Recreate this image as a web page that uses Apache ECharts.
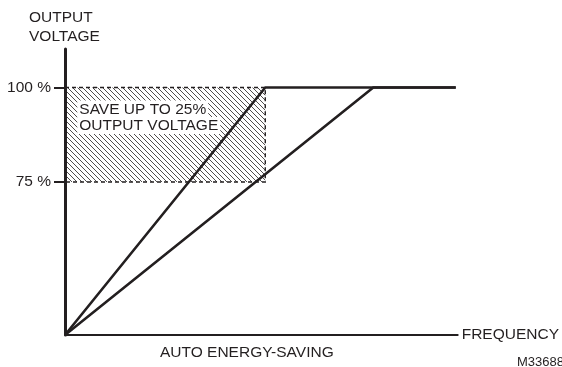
<!DOCTYPE html>
<html>
<head>
<meta charset="utf-8">
<style>
  html, body { margin: 0; padding: 0; background: #fff; }
  #chart { width: 562px; height: 367px; }
</style>
<script src="https://cdn.jsdelivr.net/npm/echarts@6/dist/echarts.min.js"></script>
</head>
<body>
<div id="chart"></div>
<script>
// Output voltage (%) against frequency (0-100 % of the frequency span).
// The voltage scale is shown from its lower visible level upwards.
const voltMin = 34.5;
const voltMax = 110.2;
const freqMax = 100;

// V/f curves: full-voltage curve and energy-saving curve
const fullCurve = [[0, voltMin], [51, 100], [99.5, 100]];
const savingCurve = [[0, voltMin], [78.5, 100], [99.5, 100]];

// Savings band: frequency span and voltage range
const bandFreq = [0, 51];
const bandVolt = [75, 100];

// Voltage tick labels
const voltTicks = [75, 100];

const ink = '#231f20';
const font = '"Liberation Sans", Arial, Helvetica, sans-serif';
const fs = 15.5;

// Diagonal hatch tile for the savings band
function hatchPattern(size) {
  const c = document.createElement('canvas');
  c.width = size; c.height = size;
  const ctx = c.getContext('2d');
  ctx.strokeStyle = ink;
  ctx.lineWidth = 0.8;
  for (let k = -size; k <= size; k += size) {
    ctx.beginPath();
    ctx.moveTo(0, k);
    ctx.lineTo(size, size + k);
    ctx.stroke();
  }
  return c;
}

const chart = echarts.init(document.getElementById('chart'), null, { renderer: 'canvas' });

chart.setOption({
  animation: false,
  backgroundColor: '#fff',
  textStyle: { fontFamily: font, color: ink },
  grid: { left: 65, top: 49, right: 102, bottom: 32, containLabel: false },
  xAxis: {
    type: 'value',
    min: 0,
    max: freqMax,
    name: 'FREQUENCY',
    nameLocation: 'end',
    nameGap: 4,
    nameTextStyle: { fontFamily: font, fontSize: fs, color: ink },
    axisLine: { show: true, onZero: false, lineStyle: { color: ink, width: 2 } },
    axisTick: { show: false },
    axisLabel: { show: false },
    splitLine: { show: false }
  },
  yAxis: {
    type: 'value',
    min: voltMin,
    max: voltMax,
    axisLine: { show: true, onZero: false, lineStyle: { color: ink, width: 3 } },
    axisTick: {
      show: true,
      customValues: voltTicks,
      length: 11,
      lineStyle: { color: ink, width: 2 }
    },
    axisLabel: {
      show: true,
      customValues: voltTicks,
      margin: 14,
      fontFamily: font,
      fontSize: fs,
      color: ink,
      formatter: v => v + ' %'
    },
    splitLine: { show: false }
  },
  graphic: [
    {
      type: 'text',
      left: 29,
      top: 8,
      style: {
        text: 'OUTPUT\nVOLTAGE',
        font: fs + 'px ' + font,
        lineHeight: 19,
        fill: ink,
        textAlign: 'left'
      }
    },
    {
      type: 'text',
      left: 160,
      top: 345,
      style: { text: 'AUTO ENERGY-SAVING', font: fs + 'px ' + font, fill: ink }
    },
    {
      type: 'text',
      left: 517,
      top: 356,
      style: { text: 'M33688', font: '13px ' + font, fill: ink }
    }
  ],
  series: [
    {
      type: 'line',
      data: fullCurve,
      showSymbol: false,
      lineStyle: { color: ink, width: 2.6 },
      z: 3,
      markArea: {
        silent: true,
        itemStyle: {
          color: { image: hatchPattern(5), repeat: 'repeat' },
          borderColor: ink,
          borderWidth: 1.4,
          borderType: [4, 3]
        },
        label: {
          show: true,
          position: [13, 14],
          formatter: '{t|SAVE UP TO 25%}\n{t|OUTPUT VOLTAGE}',
          rich: {
            t: {
              fontFamily: font,
              fontSize: fs,
              lineHeight: 16.5,
              color: ink,
              backgroundColor: '#fff',
              padding: [1, 2, 0, 2]
            }
          }
        },
        data: [[
          { xAxis: bandFreq[0], yAxis: bandVolt[1] },
          { xAxis: bandFreq[1], yAxis: bandVolt[0] }
        ]]
      }
    },
    {
      type: 'line',
      data: savingCurve,
      showSymbol: false,
      lineStyle: { color: ink, width: 2.6 },
      z: 3
    }
  ]
});
</script>
</body>
</html>
